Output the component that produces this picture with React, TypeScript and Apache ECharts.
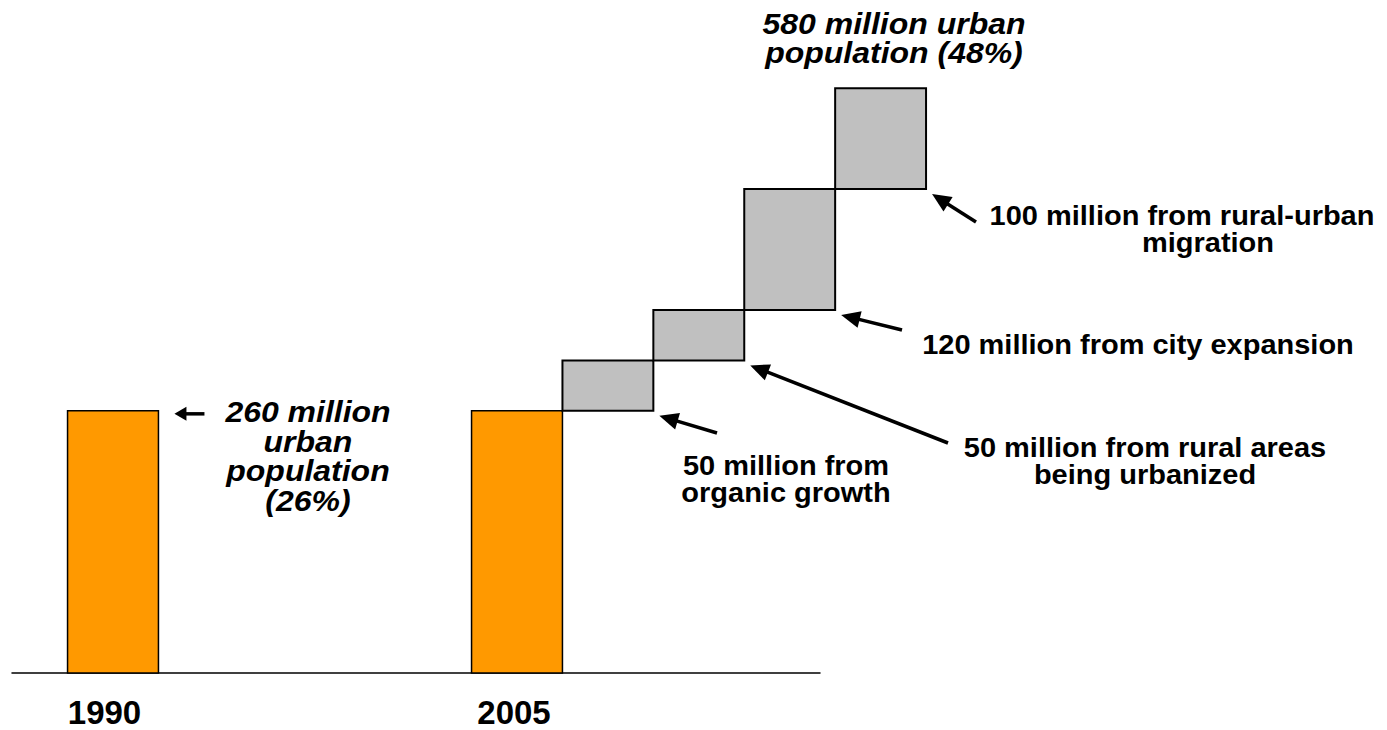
import React, { useEffect, useRef } from "react";
import * as echarts from "echarts";

// ---- data ----
const axisCategories = ["", "1990", "", "", "", "2005", "", "", ""];
const yearLabels = ["1990", "2005"];
const yearTotals = [260, 260]; // million urban population
const stepNames = [
  "organic growth",
  "rural areas being urbanized",
  "city expansion",
  "rural-urban migration",
];
const stepValues = [50, 50, 120, 100]; // million

const ORANGE = "#FF9900";
const GREY = "#C0C0C0";
const FONT = '"Liberation Sans", Arial, Helvetica, sans-serif';

function buildData() {
  const out: any[] = [];
  yearLabels.forEach((y, i) => {
    out.push({ name: y, value: [axisCategories.indexOf(y), 0, yearTotals[i], 0] });
  });
  let base = yearTotals[yearTotals.length - 1];
  const slot = axisCategories.indexOf(yearLabels[yearLabels.length - 1]);
  stepValues.forEach((v, i) => {
    out.push({ name: stepNames[i], value: [slot, base, base + v, i + 1] });
    base += v;
  });
  return out;
}

function arrow(tip: number[], tail: number[], headLen: number, halfW: number, width: number) {
  const dx = tail[0] - tip[0];
  const dy = tail[1] - tip[1];
  const len = Math.sqrt(dx * dx + dy * dy);
  const ux = dx / len;
  const uy = dy / len;
  const bx = tip[0] + ux * headLen;
  const by = tip[1] + uy * headLen;
  const px = -uy;
  const py = ux;
  return [
    {
      type: "line",
      shape: { x1: tail[0], y1: tail[1], x2: tip[0] + ux * headLen * 0.8, y2: tip[1] + uy * headLen * 0.8 },
      style: { stroke: "#000", lineWidth: width },
      silent: true,
    },
    {
      type: "polygon",
      shape: {
        points: [
          [tip[0], tip[1]],
          [bx + px * halfW, by + py * halfW],
          [bx - px * halfW, by - py * halfW],
        ],
      },
      style: { fill: "#000" },
      silent: true,
    },
  ];
}

function textEl(
  text: string,
  x: number,
  y: number,
  size: number,
  italic: boolean,
  lineHeight: number,
  scaleX: number,
  vAlign = "top"
) {
  return {
    type: "text",
    x,
    y,
    scaleX,
    scaleY: 1,
    silent: true,
    style: {
      text,
      x: 0,
      y: 0,
      fill: "#000",
      fontSize: size,
      fontWeight: "bold",
      fontStyle: italic ? "italic" : "normal",
      fontFamily: FONT,
      lineHeight,
      align: "center",
      verticalAlign: vAlign,
      textAlign: "center",
      textVerticalAlign: vAlign,
    },
  };
}

export default function App() {
  const ref = useRef<HTMLDivElement>(null);

  useEffect(() => {
    if (!ref.current) return;
    const chart = echarts.init(ref.current, null, { renderer: "svg" });
    const data = buildData();
    const BAR_RATIO = 0.9;

    chart.setOption({
      animation: false,
      backgroundColor: "#fff",
      grid: { left: 12, right: 567, top: 68, bottom: 57, containLabel: false },
      xAxis: {
        type: "category",
        data: axisCategories,
        boundaryGap: false,
        axisTick: { show: false },
        splitLine: { show: false },
        axisLine: { lineStyle: { color: "#000", width: 1.5 } },
        axisLabel: {
          interval: 0,
          margin: 23,
          formatter: (v: string) => (v === "1990" ? `{a|${v}}` : v === "2005" ? `{b|${v}}` : ""),
          rich: {
            a: { fontSize: 33, fontWeight: "bold", fontFamily: FONT, color: "#000", padding: [0, 17, 0, 0] },
            b: { fontSize: 33, fontWeight: "bold", fontFamily: FONT, color: "#000", padding: [0, 6, 0, 0] },
          },
        },
      },
      yAxis: {
        type: "value",
        min: 0,
        max: 600,
        show: false,
        splitLine: { show: false },
      },
      series: [
        {
          type: "custom",
          clip: false,
          encode: { x: 0, y: [1, 2] },
          data,
          renderItem: (params: any, api: any) => {
            const idx = api.value(0);
            const lo = api.value(1);
            const hi = api.value(2);
            const step = api.value(3);
            const w = api.size([1, 0])[0] * BAR_RATIO;
            const cx = api.coord([idx, 0])[0] + step * w;
            const yLo = api.coord([idx, lo])[1];
            const yHi = api.coord([idx, hi])[1];
            return {
              type: "rect",
              shape: { x: cx - w / 2, y: yHi, width: w, height: yLo - yHi },
              style: {
                fill: step === 0 ? ORANGE : GREY,
                stroke: "#000",
                lineWidth: step === 0 ? 1.5 : 2,
              },
            };
          },
        },
      ],
    });

    // anchor annotation arrows to the drawn bars
    const toPx = (idx: number, v: number) => chart.convertToPixel({ gridIndex: 0 }, [idx, v]) as number[];
    const w = (toPx(1, 0)[0] - toPx(0, 0)[0]) * BAR_RATIO;
    const first = data[0].value;
    const topRight1990 = [toPx(first[0], first[2])[0] + w / 2, toPx(first[0], first[2])[1]];
    const corners = data.slice(2).map((d: any) => {
      const [idx, lo, , step] = d.value;
      return [toPx(idx, 0)[0] + step * w + w / 2, toPx(idx, lo)[1]];
    });

    const tip0 = [topRight1990[0] + 16, topRight1990[1] + 3];
    const tails = [
      [717, 433],
      [948, 443],
      [902, 330],
      [976, 222],
    ];
    const elements: any[] = [];
    elements.push(...arrow(tip0, [tip0[0] + 30, tip0[1]], 12, 7, 3.5));
    corners.forEach((c: number[], i: number) => {
      elements.push(...arrow([c[0] + 6, c[1] + 5], tails[i], 19, 8.5, 3.5));
    });

    const IT = 32 / 29; // horizontal stretch of the italic captions
    const BT = 29 / 27; // horizontal stretch of the bold captions
    elements.push(textEl("260 million\nurban\npopulation\n(26%)", 308, 397, 29, true, 29.5, IT));
    elements.push(textEl("580 million urban\npopulation (48%)", 894, 8.5, 29, true, 29.5, IT));
    elements.push(textEl("50 million from\norganic growth", 786, 452, 27, false, 27, BT));
    elements.push(textEl("50 million from rural areas\nbeing urbanized", 1145, 434, 27, false, 27, BT));
    elements.push(textEl("120 million from city expansion", 1138, 345, 27, false, 27, BT, "middle"));
    elements.push(textEl("100 million from rural-urban", 1182, 215.5, 27, false, 27, BT, "middle"));
    elements.push(textEl("migration", 1208, 242.5, 27, false, 27, BT, "middle"));

    chart.setOption({ graphic: { elements } });

    return () => chart.dispose();
  }, []);

  return (
    <div
      ref={ref}
      style={{ position: "fixed", left: 0, top: 0, width: 1387, height: 730, background: "#fff" }}
    />
  );
}
